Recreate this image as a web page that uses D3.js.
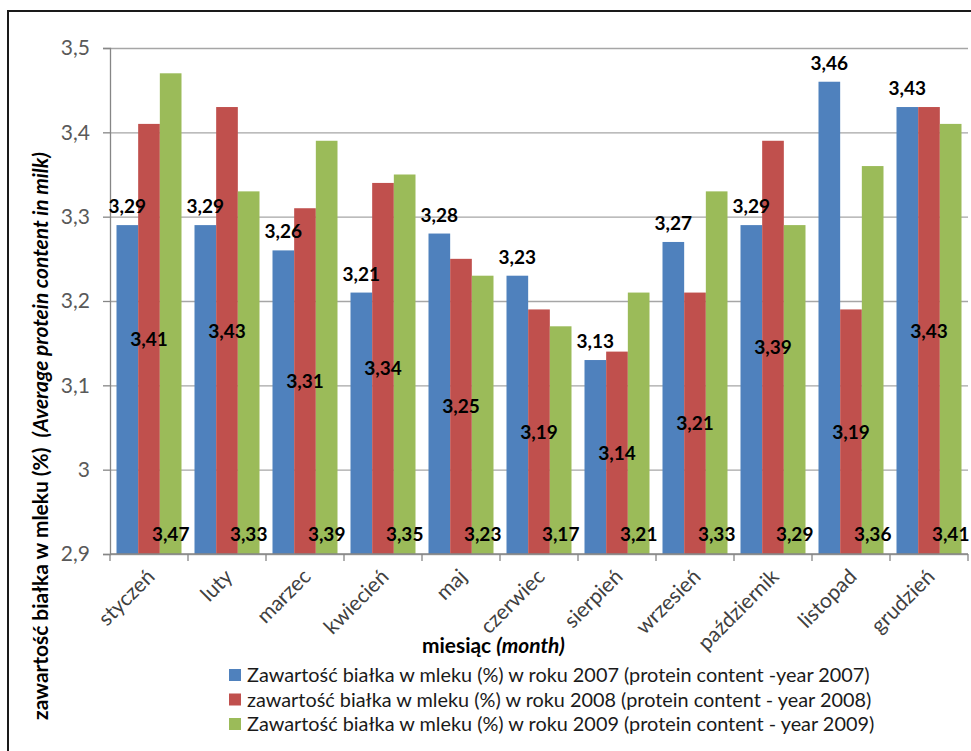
<!DOCTYPE html>
<html>
<head>
<meta charset="utf-8">
<script src="https://cdn.jsdelivr.net/npm/d3@7"></script>
<style>
  body { margin: 0; background: #fff; }
  svg { display: block; }
  text { font-family: Lato, "Open Sans", "DejaVu Sans", sans-serif; }
</style>
</head>
<body>
<svg id="chart" width="971" height="751"></svg>
<script>
// Average protein content in milk, by month, for three years
const months = ["styczeń", "luty", "marzec", "kwiecień", "maj", "czerwiec",
                "sierpień", "wrzesień", "październik", "listopad", "grudzień"];
const protein2007 = [3.29, 3.29, 3.26, 3.21, 3.28, 3.23, 3.13, 3.27, 3.29, 3.46, 3.43];
const protein2008 = [3.41, 3.43, 3.31, 3.34, 3.25, 3.19, 3.14, 3.21, 3.39, 3.19, 3.43];
const protein2009 = [3.47, 3.33, 3.39, 3.35, 3.23, 3.17, 3.21, 3.33, 3.29, 3.36, 3.41];
const seriesNames = [
  "Zawartość białka w mleku (%) w roku 2007 (protein content -year 2007)",
  "zawartość białka w mleku (%) w roku 2008 (protein content - year 2008)",
  "Zawartość białka w mleku (%) w roku 2009 (protein content - year 2009)"
];
const yTicks = [2.9, 3.0, 3.1, 3.2, 3.3, 3.4, 3.5];

const seriesValues = [protein2007, protein2008, protein2009];
const colors = ["#4F81BD", "#C0504D", "#9BBB59"];
const labelModes = ["outsideEnd", "center", "insideBase"];

const svg = d3.select("#chart");
const W = 971, H = 751;
const plot = { left: 110, right: 968, top: 48, bottom: 554 };

const pl = d3.formatLocale({ decimal: ",", thousands: " ", grouping: [3], currency: ["", " zł"] });
const tickFmt = pl.format(".1~f");
const valFmt = pl.format(".2f");

// outer frame
svg.append("rect")
  .attr("x", 8).attr("y", 11)
  .attr("width", W + 10).attr("height", H + 10)
  .attr("fill", "none").attr("stroke", "#1a1a1a").attr("stroke-width", 2);

const x = d3.scaleBand().domain(months).range([plot.left, plot.right]).padding(0);
const groupPad = x.bandwidth() / 12;
const xs = d3.scaleBand().domain(d3.range(seriesValues.length))
  .range([groupPad, x.bandwidth() - groupPad]).padding(0);
const y = d3.scaleLinear().domain([2.9, 3.5]).range([plot.bottom, plot.top]);

// horizontal gridlines
svg.append("g")
  .attr("transform", `translate(${plot.left},0)`)
  .call(d3.axisLeft(y).tickValues(yTicks).tickSize(-(plot.right - plot.left)).tickFormat(""))
  .call(g => g.select(".domain").remove())
  .call(g => g.selectAll("line").attr("stroke", "#a6a6a6").attr("stroke-width", 1.3));

const cells = seriesValues.map((vals, si) =>
  vals.map((v, mi) => ({ v, m: months[mi], si })));

// bars
const barLayer = svg.append("g");
barLayer.selectAll("g")
  .data(cells)
  .join("g")
  .attr("fill", (d, i) => colors[i])
  .selectAll("rect")
  .data(d => d)
  .join("rect")
  .attr("x", d => x(d.m) + xs(d.si))
  .attr("width", xs.bandwidth())
  .attr("y", d => y(d.v))
  .attr("height", d => y(2.9) - y(d.v));

// y axis
const yAxis = svg.append("g")
  .attr("transform", `translate(${plot.left},0)`)
  .call(d3.axisLeft(y).tickValues(yTicks).tickSize(7).tickPadding(13).tickFormat(tickFmt));
yAxis.select(".domain").attr("stroke", "#868686").attr("stroke-width", 1.3);
yAxis.selectAll(".tick line").attr("stroke", "#868686").attr("stroke-width", 1.3);
yAxis.selectAll(".tick text")
  .attr("font-size", 21).attr("fill", "#595959")
  .style("font-family", "Lato, 'Open Sans', sans-serif");

// x axis: line along the base, ticks on category boundaries
const xAxis = svg.append("g");
xAxis.append("line")
  .attr("x1", plot.left).attr("x2", plot.right)
  .attr("y1", y(2.9)).attr("y2", y(2.9))
  .attr("stroke", "#868686").attr("stroke-width", 1.3);
xAxis.selectAll("line.tk")
  .data(months.map(m => x(m)).concat([x.range()[1]]))
  .join("line").attr("class", "tk")
  .attr("x1", d => d).attr("x2", d => d)
  .attr("y1", y(2.9)).attr("y2", y(2.9) + 7)
  .attr("stroke", "#868686").attr("stroke-width", 1.3);
xAxis.selectAll("text")
  .data(months)
  .join("text")
  .attr("transform", d => `translate(${x(d) + x.bandwidth() / 2 + 7},${y(2.9) + 24}) rotate(-45)`)
  .attr("text-anchor", "end")
  .attr("font-size", 21)
  .attr("fill", "#404040")
  .text(d => d);

// data labels, drawn above every bar
const labelLayer = svg.append("g");
labelLayer.selectAll("g")
  .data(cells)
  .join("g")
  .selectAll("text")
  .data(d => d)
  .join("text")
  .attr("x", d => x(d.m) + xs(d.si) + xs.bandwidth() / 2)
  .attr("y", d => {
    const mode = labelModes[d.si];
    if (mode === "outsideEnd") return y(d.v) - 12;
    if (mode === "center") return (y(d.v) + y(2.9)) / 2 + 7;
    return y(2.9) - 13;
  })
  .attr("text-anchor", "middle")
  .attr("font-size", 19)
  .attr("font-weight", 700)
  .attr("fill", "#000")
  .text(d => valFmt(d.v));

function fitWidth(sel, target) {
  const w = sel.node().getComputedTextLength();
  const fs = parseFloat(sel.attr("font-size"));
  sel.attr("font-size", fs * target / w);
}

// axis titles
const xTitle = svg.append("text")
  .attr("x", 422).attr("y", 653)
  .attr("font-size", 19).attr("font-weight", 700).attr("fill", "#000");
xTitle.append("tspan").text("miesiąc ");
xTitle.append("tspan").attr("font-style", "italic").text("(month)");
fitWidth(xTitle, 143);

const yTitle = svg.append("text")
  .attr("transform", "translate(48,436) rotate(-90)")
  .attr("text-anchor", "middle")
  .attr("font-size", 18).attr("font-weight", 700).attr("fill", "#000");
yTitle.append("tspan").text("zawartość białka w mleku (%)\u00a0\u00a0");
yTitle.append("tspan").attr("font-style", "italic").text("(Average protein content in milk)");
fitWidth(yTitle, 568);

// legend
const legendRows = svg.append("g").selectAll("g")
  .data(seriesNames)
  .join("g")
  .attr("transform", (d, i) => `translate(229,${675 + i * 24.5})`);
legendRows.append("rect")
  .attr("x", 0).attr("y", -6).attr("width", 12).attr("height", 12)
  .attr("fill", (d, i) => colors[i]);
const legendTexts = legendRows.append("text")
  .attr("x", 18).attr("y", 7)
  .attr("font-size", 20).attr("fill", "#1a1a1a")
  .text(d => d);
const lw = legendTexts.filter((d, i) => i === 0).node().getComputedTextLength();
legendTexts.attr("font-size", 20 * 623 / lw);
</script>
</body>
</html>
